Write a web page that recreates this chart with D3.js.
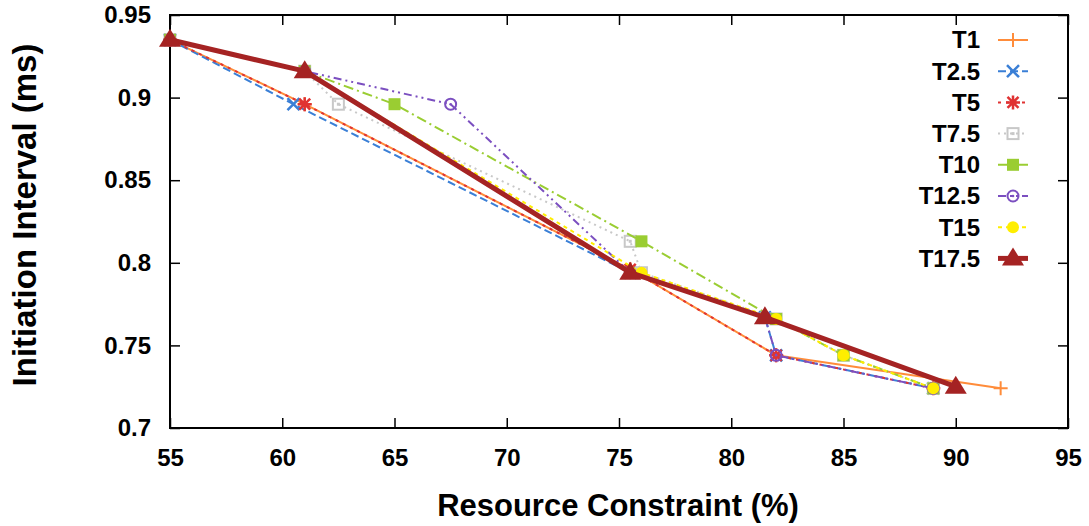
<!DOCTYPE html>
<html>
<head>
<meta charset="utf-8">
<script src="https://cdn.jsdelivr.net/npm/d3@7"></script>
<style>
  body { margin: 0; background: #fff; }
  svg text { font-family: "Liberation Sans", Arial, sans-serif; font-weight: bold; fill: #000; }
</style>
</head>
<body>
<div id="chart"></div>
<script>
// data
const seriesNames = ["T1", "T2.5", "T5", "T7.5", "T10", "T12.5", "T15", "T17.5"];

const t1x = [55, 61, 75.5, 82, 92];
const t1y = [0.935, 0.896, 0.796, 0.744, 0.724];

const t25x = [55, 60.5, 75.5, 81.5, 82, 89];
const t25y = [0.935, 0.896, 0.794, 0.767, 0.744, 0.724];

const t5x = [55, 61, 75.5, 82, 89];
const t5y = [0.935, 0.896, 0.796, 0.744, 0.724];

const t75x = [55, 61, 62.5, 75.5, 76, 82, 85, 89];
const t75y = [0.935, 0.916, 0.896, 0.813, 0.794, 0.766, 0.744, 0.724];

const t10x = [55, 61, 65, 76, 82, 85, 89];
const t10y = [0.935, 0.916, 0.896, 0.813, 0.766, 0.744, 0.724];

const t125x = [55, 61, 67.5, 75.5, 81.5, 82, 89];
const t125y = [0.935, 0.916, 0.896, 0.794, 0.767, 0.744, 0.724];

const t15x = [55, 61, 76, 82, 85, 89];
const t15y = [0.935, 0.916, 0.794, 0.766, 0.744, 0.724];

const t175x = [55, 61, 75.5, 81.5, 90];
const t175y = [0.935, 0.916, 0.794, 0.767, 0.725];

const xTicks = [55, 60, 65, 70, 75, 80, 85, 90, 95];
const yTicks = [0.7, 0.75, 0.8, 0.85, 0.9, 0.95];

const allX = [t1x, t25x, t5x, t75x, t10x, t125x, t15x, t175x];
const allY = [t1y, t25y, t5y, t75y, t10y, t125y, t15y, t175y];

// styles
const colors = ["#ff8c3a", "#3a7fd6", "#e03333", "#c8c8c8", "#9acd32", "#7b4fc0", "#ffee00", "#a52323"];
const dashes = [null, "8,4", "3,5", "2,4", "10,4,2,4", "8,4,2,4,2,4", "4,4", null];
const widths = [2, 2, 2, 2, 2, 2, 2, 5];
const markers = ["plus", "times", "star", "boxdot", "fsquare", "circdot", "fcircle", "triangle"];

const W = 1089, H = 526;
const m = { left: 170, right: 21, top: 15, bottom: 98 };

const svg = d3.select("#chart").append("svg").attr("width", W).attr("height", H);

const x = d3.scaleLinear().domain([55, 95]).range([m.left, W - m.right]);
const y = d3.scaleLinear().domain([0.7, 0.95]).range([H - m.bottom, m.top]);

// frame and mirrored inward ticks
const tl = 10;
svg.append("g").attr("transform", `translate(0,${H - m.bottom})`)
  .call(d3.axisBottom(x).tickValues(xTicks).tickSize(-tl).tickPadding(21).tickFormat(d3.format("d")))
  .call(g => g.select(".domain").remove());
svg.append("g").attr("transform", `translate(0,${m.top})`)
  .call(d3.axisTop(x).tickValues(xTicks).tickSize(-tl).tickFormat(""))
  .call(g => g.select(".domain").remove());
svg.append("g").attr("transform", `translate(${m.left},0)`)
  .call(d3.axisLeft(y).tickValues(yTicks).tickSize(-tl).tickPadding(19).tickFormat(d => d3.format("")(+d.toFixed(2))))
  .call(g => g.select(".domain").remove());
svg.append("g").attr("transform", `translate(${W - m.right},0)`)
  .call(d3.axisRight(y).tickValues(yTicks).tickSize(-tl).tickFormat(""))
  .call(g => g.select(".domain").remove());
svg.selectAll(".tick line").attr("stroke", "#000").attr("stroke-width", 1.5);
svg.selectAll(".tick text").style("font-size", "24px");

svg.append("rect")
  .attr("x", m.left).attr("y", m.top)
  .attr("width", W - m.right - m.left).attr("height", H - m.bottom - m.top)
  .attr("fill", "none").attr("stroke", "#000").attr("stroke-width", 2);

// axis titles
svg.append("text").attr("x", 618).attr("y", 516)
  .attr("text-anchor", "middle").style("font-size", "31px").text("Resource Constraint (%)");
svg.append("text").attr("transform", `translate(36,215) rotate(-90)`)
  .attr("text-anchor", "middle").style("font-size", "33px").text("Initiation Interval (ms)");

function drawMarker(g, type, cx, cy, color) {
  const s = 7;
  if (type === "plus") {
    g.append("path").attr("d", `M${cx - s},${cy}H${cx + s}M${cx},${cy - s}V${cy + s}`)
      .attr("stroke", color).attr("stroke-width", 2).attr("fill", "none");
  } else if (type === "times") {
    const t = 6;
    g.append("path").attr("d", `M${cx - t},${cy - t}L${cx + t},${cy + t}M${cx - t},${cy + t}L${cx + t},${cy - t}`)
      .attr("stroke", color).attr("stroke-width", 2.5).attr("fill", "none");
  } else if (type === "star") {
    const t = 5.5;
    g.append("path").attr("d", `M${cx - t},${cy - t}L${cx + t},${cy + t}M${cx - t},${cy + t}L${cx + t},${cy - t}M${cx - s},${cy}H${cx + s}M${cx},${cy - s}V${cy + s}`)
      .attr("stroke", color).attr("stroke-width", 2.5).attr("fill", "none");
  } else if (type === "boxdot") {
    g.append("rect").attr("x", cx - 5.5).attr("y", cy - 5.5).attr("width", 11).attr("height", 11)
      .attr("fill", "none").attr("stroke", color).attr("stroke-width", 2);
    g.append("rect").attr("x", cx - 1.5).attr("y", cy - 1.5).attr("width", 3).attr("height", 3).attr("fill", color);
  } else if (type === "fsquare") {
    g.append("rect").attr("x", cx - 6).attr("y", cy - 6).attr("width", 12).attr("height", 12).attr("fill", color);
  } else if (type === "circdot") {
    g.append("circle").attr("cx", cx).attr("cy", cy).attr("r", 5.5)
      .attr("fill", "none").attr("stroke", color).attr("stroke-width", 2);
    g.append("circle").attr("cx", cx).attr("cy", cy).attr("r", 1.3).attr("fill", color);
  } else if (type === "fcircle") {
    g.append("circle").attr("cx", cx).attr("cy", cy).attr("r", 6).attr("fill", color);
  } else if (type === "triangle") {
    g.append("path").attr("d", `M${cx},${cy - 11}L${cx + 11},${cy + 7}L${cx - 11},${cy + 7}Z`).attr("fill", color);
  }
}

const line = d3.line().x(d => x(d[0])).y(d => y(d[1]));
const plot = svg.append("g");

seriesNames.forEach((name, i) => {
  const pts = allX[i].map((v, j) => [v, allY[i][j]]);
  const g = plot.append("g");
  g.append("path").datum(pts).attr("d", line)
    .attr("fill", "none").attr("stroke", colors[i]).attr("stroke-width", widths[i])
    .attr("stroke-dasharray", dashes[i]).attr("stroke-linejoin", "round");
  pts.forEach(p => drawMarker(g, markers[i], x(p[0]), y(p[1]), colors[i]));
});

// legend
const leg = svg.append("g");
seriesNames.forEach((name, i) => {
  const ly = 40 + i * 31.2;
  leg.append("text").attr("x", 980).attr("y", ly).attr("dy", "0.35em")
    .attr("text-anchor", "end").style("font-size", "24px").text(name);
  leg.append("line").attr("x1", 998).attr("x2", 1028).attr("y1", ly).attr("y2", ly)
    .attr("stroke", colors[i]).attr("stroke-width", widths[i]).attr("stroke-dasharray", dashes[i]);
  drawMarker(leg, markers[i], 1013, ly, colors[i]);
});
</script>
</body>
</html>
